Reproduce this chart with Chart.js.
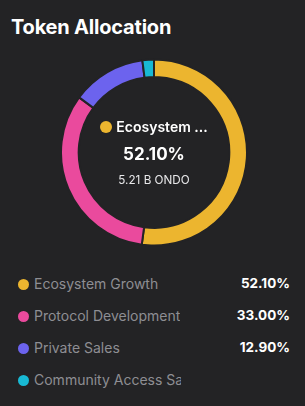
<!DOCTYPE html>
<html>
<head>
<meta charset="utf-8">
<script src="https://cdn.jsdelivr.net/npm/chart.js@4.4.1/dist/chart.umd.min.js"></script>
<style>
  html, body { margin: 0; padding: 0; }
  body {
    width: 305px; height: 406px; background: #232325; overflow: hidden;
    font-family: Inter, "Noto Sans", sans-serif; position: relative; color: #fff;
  }
  .title { position: absolute; left: 11px; top: 15px; font-size: 20px; font-weight: 700; letter-spacing: -0.2px; }
  .chart-box { position: absolute; left: 60px; top: 58px; width: 188px; height: 189px; }
  .center { position: absolute; left: 60px; top: 58px; width: 188px; height: 188px; text-align: center; pointer-events: none; }
  .center .name { position: absolute; left: 0; right: 0; top: 60px; font-size: 14px; font-weight: 600; }
  .center .name .dot { display: inline-block; width: 12px; height: 12px; border-radius: 50%; margin-right: 4px; vertical-align: -1px; }
  .center .pct { position: absolute; left: 0; right: 0; top: 86px; font-size: 17px; font-weight: 700; }
  .center .amt { position: absolute; left: 0; right: 0; top: 115px; font-size: 11.7px; color: #e8e8ea; }
  .legend { position: absolute; left: 18px; top: 275px; width: 272px; }
  .row { height: 32px; position: relative; font-size: 14px; }
  .row .dot { position: absolute; left: 0; top: 4px; width: 11px; height: 11px; border-radius: 50%; }
  .row .label { position: absolute; left: 16px; top: 0px; color: #8e8e93; white-space: nowrap; overflow: hidden; }
  .row .val { position: absolute; right: 0; top: 0px; font-weight: 700; font-size: 13.5px; }
</style>
</head>
<body>
<div class="title">Token Allocation</div>
<div class="chart-box"><canvas id="chart"></canvas></div>
<div class="center">
  <div class="name"><span class="dot" id="cdot"></span><span id="cname"></span></div>
  <div class="pct" id="cpct"></div>
  <div class="amt" id="camt"></div>
</div>
<div class="legend" id="legend"></div>
<script>
const categories = ['Ecosystem Growth', 'Protocol Development', 'Private Sales', 'Community Access Sale'];
const shares = [52.10, 33.00, 12.90, 2.00];
const colors = ['#ecb52f', '#ea4a9d', '#6c63ee', '#18b9d4'];
const centerAmount = '5.21 B ONDO';

new Chart(document.getElementById('chart').getContext('2d'), {
  type: 'doughnut',
  data: {
    labels: categories,
    datasets: [{
      data: shares,
      backgroundColor: colors,
      borderColor: '#232325',
      borderWidth: 2
    }]
  },
  options: {
    responsive: true,
    maintainAspectRatio: false,
    animation: false,
    cutout: '81%',
    plugins: { legend: { display: false }, tooltip: { enabled: false } }
  }
});

// center readout for the first slice
document.getElementById('cdot').style.background = colors[0];
document.getElementById('cname').textContent = 'Ecosystem ...';
document.getElementById('cpct').textContent = shares[0].toFixed(2) + '%';
document.getElementById('camt').textContent = centerAmount;

// legend rows
const legendEl = document.getElementById('legend');
legendEl.innerHTML = categories.map((c, i) => `
  <div class="row">
    <span class="dot" style="background:${colors[i]}"></span>
    <span class="label" ${i === 3 ? 'style="width:147px"' : ''}>${c}</span>
    ${i < 3 ? `<span class="val">${shares[i].toFixed(2)}%</span>` : ''}
  </div>`).join('');
</script>
</body>
</html>
